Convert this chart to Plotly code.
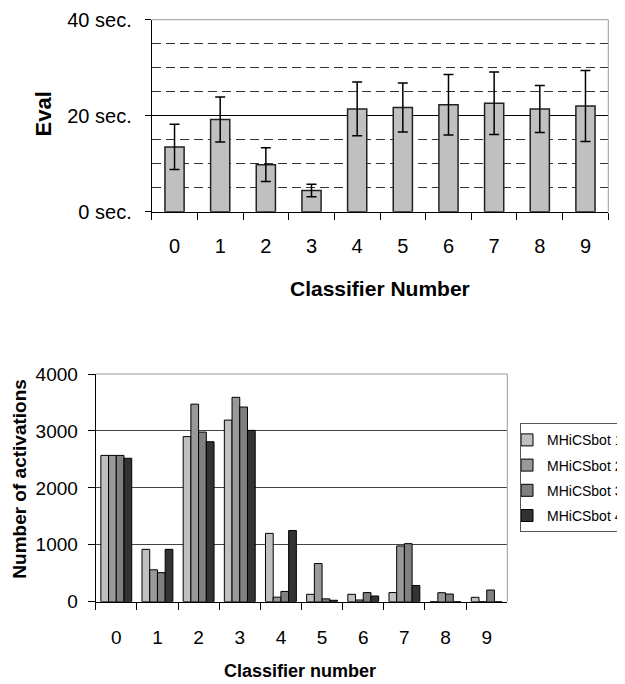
import plotly.graph_objects as go

# ---- data: top chart (evaluation time) ----
classifiers = ["0", "1", "2", "3", "4", "5", "6", "7", "8", "9"]
eval_means = [13.5, 19.2, 9.8, 4.4, 21.4, 21.7, 22.3, 22.6, 21.4, 22.0]
eval_errors = [4.7, 4.7, 3.5, 1.3, 5.6, 5.1, 6.3, 6.5, 4.9, 7.4]
eval_tickvals = [0, 20, 40]
eval_ticktext = ["0 sec.", "20 sec.", "40 sec."]
eval_minor_vals = [5, 10, 15, 25, 30, 35]

# ---- data: bottom chart (activations) ----
series_names = ["MHiCSbot 1", "MHiCSbot 2", "MHiCSbot 3", "MHiCSbot 4"]
bot1 = [2570, 920, 2900, 3190, 1200, 130, 130, 160, 0, 77]
bot2 = [2570, 560, 3470, 3590, 80, 670, 30, 980, 158, 0]
bot3 = [2570, 510, 2980, 3420, 180, 50, 160, 1020, 135, 205]
bot4 = [2520, 920, 2810, 3010, 1250, 25, 100, 285, 0, 0]
series_values = [bot1, bot2, bot3, bot4]
series_colors = ["#c0c0c0", "#999999", "#808080", "#333333"]

# page body has an 8px default margin; the figure is sized so it fills the window
OFF = 8
W, H = 625 - OFF, 684 - OFF
FONT = "Arial, Liberation Sans, sans-serif"

fig = go.Figure()

fig.add_trace(go.Bar(
    x=classifiers, y=eval_means, width=0.42,
    error_y=dict(type="data", array=eval_errors, color="black", thickness=1.5, width=5),
    marker=dict(color="#c0c0c0", line=dict(color="#222222", width=1.5)),
    xaxis="x", yaxis="y", showlegend=False,
))

for name, vals, col in zip(series_names, series_values, series_colors):
    fig.add_trace(go.Bar(
        x=classifiers, y=vals, name=name, legendgroup=name,
        marker=dict(color=col, line=dict(color="black", width=1)),
        xaxis="x2", yaxis="y2",
    ))

def px_x(v):
    return (v - OFF) / W

def px_y(v):
    return (H - (v - OFF)) / H

fig.update_layout(
    width=W, height=H,
    margin=dict(l=0, r=0, t=0, b=0, autoexpand=False),
    paper_bgcolor="white", plot_bgcolor="white",
    font=dict(family=FONT, color="black", size=20),
    barmode="group", bargap=0.25, bargroupgap=0,
    xaxis=dict(
        domain=[px_x(151.7), px_x(608.3)], anchor="y", type="category",
        showline=True, linecolor="black", linewidth=1,
        ticks="outside", tickson="boundaries", ticklen=7, tickcolor="black",
        tickfont=dict(size=20), ticklabelstandoff=16, showgrid=False,
    ),
    yaxis=dict(
        domain=[px_y(211.7), px_y(19.7)], anchor="x", range=[0, 40],
        tickmode="array", tickvals=eval_tickvals, ticktext=eval_ticktext,
        showline=True, linecolor="black", linewidth=1,
        ticks="outside", ticklen=6, tickcolor="black",
        tickfont=dict(size=20), ticklabelstandoff=9,
        showgrid=True, gridcolor="black", gridwidth=1, zeroline=False,
        minor=dict(tickmode="array", tickvals=eval_minor_vals, showgrid=True,
                   gridcolor="#333333", griddash="9px,5px", gridwidth=1, ticks=""),
    ),
    xaxis2=dict(
        domain=[px_x(95.7), px_x(507.3)], anchor="y2", type="category",
        showline=True, linecolor="black", linewidth=1,
        ticks="outside", tickson="boundaries", ticklen=7, tickcolor="black",
        tickfont=dict(size=19), ticklabelstandoff=18, showgrid=False,
    ),
    yaxis2=dict(
        domain=[px_y(601.7), px_y(374)], anchor="x2", range=[0, 4000], dtick=1000,
        showline=True, linecolor="black", linewidth=1,
        ticks="outside", ticklen=7, tickcolor="black",
        tickfont=dict(size=19), ticklabelstandoff=6,
        showgrid=True, gridcolor="#444444", gridwidth=1, zeroline=False,
    ),
    legend=dict(
        x=px_x(520), y=px_y(423.3), xanchor="left", yanchor="top",
        bordercolor="#555555", borderwidth=1, bgcolor="white",
        font=dict(size=14, family=FONT), indentation=-14, tracegroupgap=4,
    ),
    shapes=[
        dict(type="line", xref="x domain", yref="y domain", x0=0, x1=1, y0=1, y1=1,
             line=dict(color="#999999", width=1), layer="above"),
        dict(type="line", xref="x domain", yref="y domain", x0=1, x1=1, y0=0, y1=1,
             line=dict(color="#999999", width=1), layer="above"),
        dict(type="line", xref="x2 domain", yref="y2 domain", x0=0, x1=1, y0=1, y1=1,
             line=dict(color="#999999", width=1), layer="above"),
        dict(type="line", xref="x2 domain", yref="y2 domain", x0=1, x1=1, y0=0, y1=1,
             line=dict(color="#999999", width=1), layer="above"),
    ],
    annotations=[
        dict(text="<b>Eval</b>", xref="paper", yref="paper", x=px_x(42.5), y=px_y(114),
             textangle=-90, showarrow=False, xanchor="center", yanchor="middle",
             font=dict(size=22, family=FONT)),
        dict(text="<b>Classifier Number</b>", xref="paper", yref="paper", x=px_x(380), y=px_y(288.7),
             showarrow=False, xanchor="center", yanchor="middle", font=dict(size=21, family=FONT)),
        dict(text="<b>Number of activations</b>", xref="paper", yref="paper", x=px_x(19.7), y=px_y(479),
             textangle=-90, showarrow=False, xanchor="center", yanchor="middle",
             font=dict(size=19, family=FONT)),
        dict(text="<b>Classifier number</b>", xref="paper", yref="paper", x=px_x(300), y=px_y(671),
             showarrow=False, xanchor="center", yanchor="middle", font=dict(size=18, family=FONT)),
    ],
)

fig.write_html("out.html")
